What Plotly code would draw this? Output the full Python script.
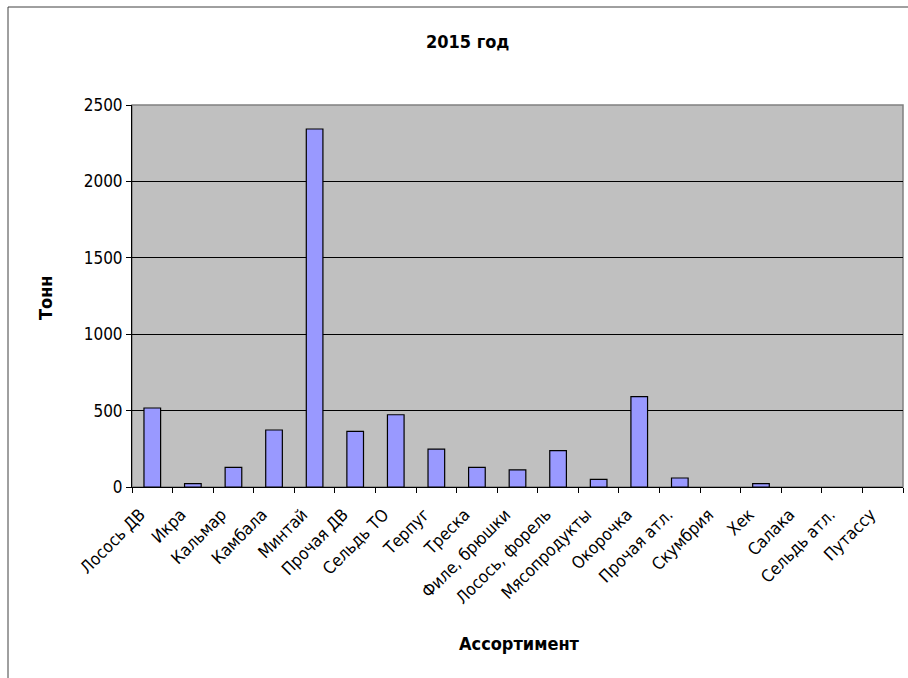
import plotly.graph_objects as go

categories = ["Лосось ДВ", "Икра", "Кальмар", "Камбала", "Минтай", "Прочая ДВ",
              "Сельдь ТО", "Терпуг", "Треска", "Филе, брюшки", "Лосось, форель",
              "Мясопродукты", "Окорочка", "Прочая атл.", "Скумбрия", "Хек",
              "Салака", "Сельдь атл.", "Путассу"]
values = [517, 22, 129, 373, 2343, 364, 473, 248, 128, 112, 238, 50, 592, 59, 0, 22, 0, 0, 0]
y_ticks = [0, 500, 1000, 1500, 2000, 2500]

W, H = 908, 678
L, R, T, B = 132, 903, 105, 487

def px(x):
    return (x - L) / (R - L)

def py(y):
    return (B - y) / (B - T)

outline_widths = [1.2 if v > 0 else 0 for v in values]

fig = go.Figure(go.Bar(
    x=categories, y=values,
    marker=dict(color="#9999FF", line=dict(color="#000000", width=outline_widths)),
))

font = "DejaVu Sans Condensed, DejaVu Sans, sans-serif"

fig.update_layout(
    width=W, height=H,
    margin=dict(l=L, r=W - R, t=T, b=H - B),
    paper_bgcolor="white", plot_bgcolor="#C0C0C0",
    bargap=0.59, showlegend=False,
    font=dict(family=font, size=17, color="black"),
    xaxis=dict(
        type="category", tickangle=-45, tickson="boundaries",
        ticks="outside", ticklen=5, tickcolor="black",
        showline=True, linecolor="black", linewidth=1,
        showgrid=False, tickfont=dict(family=font, size=17),
        ticklabelshift=-12, ticklabelstandoff=10,
    ),
    yaxis=dict(
        range=[0, 2500], tickvals=y_ticks, ticks="outside", ticklen=5,
        tickcolor="black", showline=True, linecolor="black", linewidth=1,
        showgrid=True, gridcolor="#000000", gridwidth=1, zeroline=False,
        tickfont=dict(family=font, size=17),
    ),
    shapes=[
        dict(type="rect", xref="paper", yref="paper", x0=0, x1=1, y0=0, y1=1,
             line=dict(color="#808080", width=1.5), layer="below"),
        dict(type="rect", xref="paper", yref="paper",
             x0=px(8), x1=px(W + 20), y0=py(H + 20), y1=py(7),
             line=dict(color="#404040", width=1)),
    ],
    annotations=[
        dict(text="<b>2015 год</b>", xref="paper", yref="paper", x=px(467), y=py(42),
             showarrow=False, xanchor="center", yanchor="middle",
             font=dict(family="Liberation Sans Narrow, DejaVu Sans Condensed, sans-serif", size=18)),
        dict(text="<b>Тонн</b>", xref="paper", yref="paper", x=px(45), y=py(298),
             showarrow=False, textangle=-90, xanchor="center", yanchor="middle",
             font=dict(family=font, size=18)),
        dict(text="<b>Ассортимент</b>", xref="paper", yref="paper", x=px(519), y=py(643),
             showarrow=False, xanchor="center", yanchor="middle",
             font=dict(family=font, size=18)),
    ],
)

fig.write_html("out.html")
